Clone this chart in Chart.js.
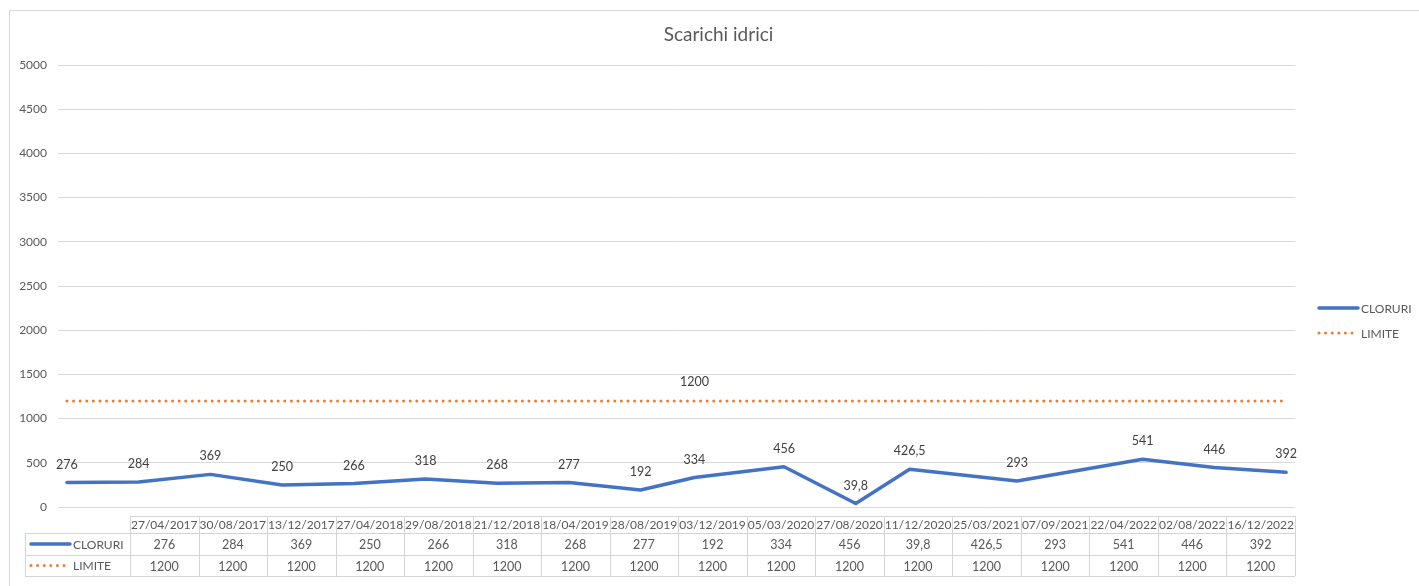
<!DOCTYPE html>
<html>
<head>
<meta charset="utf-8">
<title>Scarichi idrici</title>
<script src="https://cdn.jsdelivr.net/npm/chart.js@4/dist/chart.umd.min.js"></script>
<style>
  html, body { margin: 0; padding: 0; background: #ffffff; }
  #wrap { width: 1419px; height: 586px; position: relative; }
</style>
</head>
<body>
<div id="wrap"><canvas id="chart" width="1419" height="586"></canvas></div>
<script>
// Sampling dates (dd/mm/yyyy) and measured values
const categories = ['27/04/2017', '30/08/2017', '13/12/2017', '27/04/2018', '29/08/2018', '21/12/2018',
  '18/04/2019', '28/08/2019', '03/12/2019', '05/03/2020', '27/08/2020', '11/12/2020',
  '25/03/2021', '07/09/2021', '22/04/2022', '02/08/2022', '16/12/2022'];
const cloruri = [276, 284, 369, 250, 266, 318, 268, 277, 192, 334, 456, 39.8, 426.5, 293, 541, 446, 392];
const limite = [1200, 1200, 1200, 1200, 1200, 1200, 1200, 1200, 1200, 1200, 1200, 1200, 1200, 1200, 1200, 1200, 1200];
const yTicks = [0, 500, 1000, 1500, 2000, 2500, 3000, 3500, 4000, 4500, 5000];
const seriesNames = ['CLORURI', 'LIMITE'];
const chartTitle = 'Scarichi idrici';
// Only one label is shown on the limit line
const limiteLabelIndex = 9;

const FONT = "Lato, 'Open Sans', sans-serif";
const BLUE = '#4472C4';
const ORANGE = '#ED7D31';
const TEXT = '#595959';
const GRID = '#d9d9d9';

// Date axis with monthly base unit: each date sits on its month
function monthOf(s) {
  const p = s.split('/').map(Number);
  return p[2] * 12 + (p[1] - 1);
}
const baseMonth = monthOf(categories[0]);
const xPos = categories.map(c => monthOf(c) - baseMonth);

const fmt = v => String(v).replace('.', ',');

function lineStyle(ctx, idx) {
  if (idx === 0) {
    ctx.strokeStyle = BLUE; ctx.lineWidth = 3.5; ctx.lineCap = 'round'; ctx.setLineDash([]);
  } else {
    ctx.strokeStyle = ORANGE; ctx.lineWidth = 3; ctx.lineCap = 'round'; ctx.setLineDash([0, 6.6]);
  }
}

const decorations = {
  id: 'decorations',
  beforeDraw(chart) {
    const ctx = chart.ctx;
    ctx.save();
    ctx.fillStyle = '#ffffff';
    ctx.fillRect(0, 0, chart.width, chart.height);
    ctx.strokeStyle = GRID;
    ctx.lineWidth = 1;
    ctx.strokeRect(9.5, 10.5, chart.width + 20, chart.height + 20);
    ctx.restore();
  },
  afterDatasetsDraw(chart) {
    const ctx = chart.ctx;
    ctx.save();
    ctx.font = '12.5px ' + FONT;
    ctx.fillStyle = '#404040';
    ctx.textAlign = 'center';
    ctx.textBaseline = 'middle';
    chart.getDatasetMeta(0).data.forEach((pt, i) => {
      ctx.fillText(fmt(cloruri[i]), pt.x, pt.y - 18);
    });
    const lp = chart.getDatasetMeta(1).data[limiteLabelIndex];
    ctx.fillText(fmt(limite[limiteLabelIndex]), lp.x, lp.y - 19);
    ctx.restore();
  },
  afterDraw(chart) {
    const ctx = chart.ctx;
    const area = chart.chartArea;
    ctx.save();

    // Title
    ctx.font = '19px ' + FONT;
    ctx.fillStyle = TEXT;
    ctx.textAlign = 'center';
    ctx.textBaseline = 'middle';
    ctx.fillText(chartTitle, 718.5, 35);

    // Legend on the right
    ctx.font = '12px ' + FONT;
    ctx.textAlign = 'left';
    [308, 333].forEach((y, i) => {
      ctx.save();
      lineStyle(ctx, i);
      ctx.beginPath();
      ctx.moveTo(1319, y);
      ctx.lineTo(i === 0 ? 1358 : 1356, y);
      ctx.stroke();
      ctx.restore();
      ctx.fillStyle = TEXT;
      ctx.fillText(seriesNames[i], 1361, y + 1);
    });

    // Data table under the plot
    const tLeft = 25, cLeft = 130, tRight = area.right;
    const rows = [516, 533, 555, 576];
    const n = categories.length;
    const colW = (tRight - cLeft) / n;
    ctx.strokeStyle = '#d4d4d4';
    ctx.lineWidth = 1;
    ctx.beginPath();
    ctx.moveTo(cLeft, rows[0] + 0.5); ctx.lineTo(tRight, rows[0] + 0.5);
    for (let r = 1; r < rows.length; r++) {
      ctx.moveTo(tLeft, rows[r] + 0.5); ctx.lineTo(tRight, rows[r] + 0.5);
    }
    ctx.moveTo(tLeft + 0.5, rows[1]); ctx.lineTo(tLeft + 0.5, rows[3]);
    for (let c = 0; c <= n; c++) {
      const x = Math.round(cLeft + c * colW) + 0.5;
      ctx.moveTo(x, rows[0]); ctx.lineTo(x, rows[3]);
    }
    ctx.stroke();

    ctx.fillStyle = TEXT;
    ctx.textAlign = 'center';
    ctx.textBaseline = 'middle';
    for (let c = 0; c < n; c++) {
      const cx = cLeft + (c + 0.5) * colW;
      ctx.font = '12px ' + FONT;
      ctx.fillText(categories[c], cx, (rows[0] + rows[1]) / 2 + 1);
      ctx.font = '12.5px ' + FONT;
      ctx.fillText(fmt(cloruri[c]), cx, (rows[1] + rows[2]) / 2 + 1);
      ctx.fillText(fmt(limite[c]), cx, (rows[2] + rows[3]) / 2 + 1);
    }
    // Row keys
    ctx.textAlign = 'left';
    ctx.font = '12px ' + FONT;
    [0, 1].forEach(i => {
      const y = (rows[i + 1] + rows[i + 2]) / 2;
      ctx.save();
      lineStyle(ctx, i);
      ctx.beginPath();
      ctx.moveTo(31, y);
      ctx.lineTo(i === 0 ? 70 : 66, y);
      ctx.stroke();
      ctx.restore();
      ctx.fillStyle = TEXT;
      ctx.fillText(seriesNames[i], 73, y + 1);
    });
    ctx.restore();
  }
};

new Chart(document.getElementById('chart'), {
  type: 'line',
  data: {
    datasets: [
      {
        label: seriesNames[0],
        data: xPos.map((x, i) => ({ x: x, y: cloruri[i] })),
        borderColor: BLUE,
        borderWidth: 3.5,
        borderCapStyle: 'round',
        borderJoinStyle: 'round',
        pointRadius: 0,
        tension: 0,
        fill: false
      },
      {
        label: seriesNames[1],
        data: xPos.map((x, i) => ({ x: x, y: limite[i] })),
        borderColor: ORANGE,
        borderWidth: 3,
        borderDash: [0, 6.6],
        borderCapStyle: 'round',
        pointRadius: 0,
        tension: 0,
        fill: false
      }
    ]
  },
  options: {
    responsive: false,
    animation: false,
    devicePixelRatio: 1,
    layout: { padding: { top: 65, bottom: 79, left: 0, right: 124 } },
    plugins: {
      legend: { display: false },
      title: { display: false },
      tooltip: { enabled: false }
    },
    scales: {
      x: {
        type: 'linear',
        display: false,
        min: xPos[0] - 0.5,
        max: xPos[xPos.length - 1] + 0.5
      },
      y: {
        min: yTicks[0],
        max: yTicks[yTicks.length - 1],
        afterBuildTicks: s => { s.ticks = yTicks.map(v => ({ value: v })); },
        afterFit: s => { s.width = 58; },
        border: { display: false },
        grid: { color: GRID, lineWidth: 1, drawTicks: false },
        ticks: {
          color: TEXT,
          padding: 11,
          font: { family: FONT, size: 12 },
          callback: v => String(v)
        }
      }
    }
  },
  plugins: [decorations]
});
</script>
</body>
</html>
